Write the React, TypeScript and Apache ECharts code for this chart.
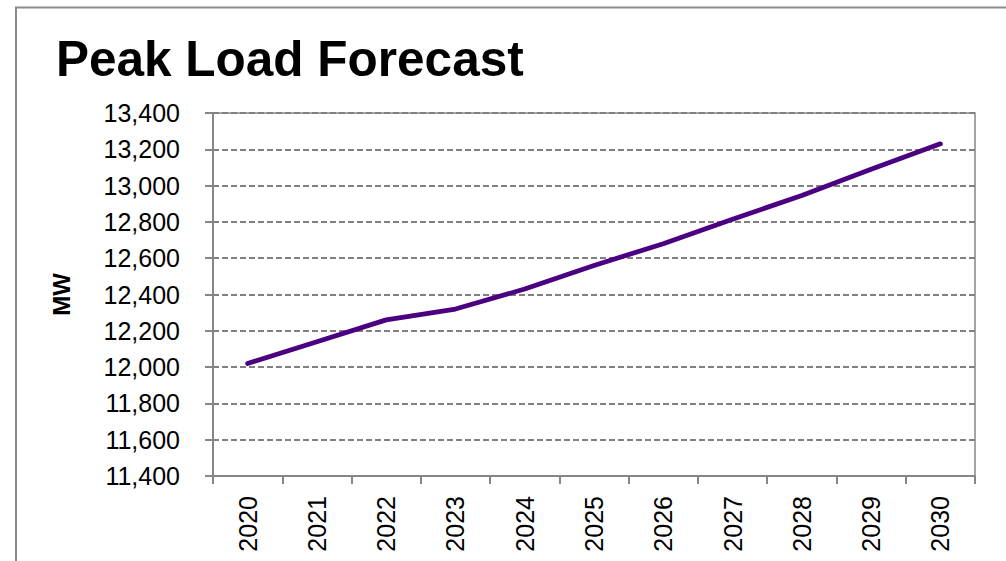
import React, { useEffect, useRef } from "react";
import * as echarts from "echarts";

// Forecast years and annual peak load (MW)
const years = ["2020", "2021", "2022", "2023", "2024", "2025", "2026", "2027", "2028", "2029", "2030"];
const peakLoad = [12020, 12140, 12260, 12320, 12430, 12560, 12680, 12815, 12945, 13090, 13230];

const yMin = 11400;
const yMax = 13400;
const yStep = 200;

const FONT = "'Liberation Sans', Arial, Helvetica, sans-serif";
const AXIS_GRAY = "#868686";

export default function App() {
  const ref = useRef<HTMLDivElement>(null);

  useEffect(() => {
    if (!ref.current) return;
    const chart = echarts.init(ref.current, undefined, { renderer: "svg" });
    chart.setOption({
      animation: false,
      backgroundColor: "#ffffff",
      textStyle: { fontFamily: FONT },
      title: {
        text: "Peak Load Forecast",
        left: 51,
        top: 28,
        textStyle: { fontFamily: FONT, fontSize: 49.5, fontWeight: "bold", color: "#000000" },
      },
      graphic: [
        {
          type: "rect",
          silent: true,
          shape: { x: 16, y: 7.5, width: 1000, height: 600 },
          style: { fill: "none", stroke: "#8c8c8c", lineWidth: 2 },
        },
      ],
      grid: {
        left: 213,
        top: 113,
        right: 31,
        bottom: 85,
        show: true,
        borderColor: AXIS_GRAY,
        borderWidth: 1.5,
        backgroundColor: "transparent",
      },
      xAxis: {
        type: "category",
        data: years,
        boundaryGap: true,
        axisLine: { show: true, lineStyle: { color: AXIS_GRAY, width: 2 } },
        axisTick: { show: true, length: 8, alignWithLabel: false, lineStyle: { color: AXIS_GRAY, width: 2 } },
        axisLabel: {
          rotate: 90,
          margin: 20,
          fontFamily: FONT,
          fontSize: 25,
          color: "#000000",
          interval: 0,
        },
        splitLine: { show: false },
      },
      yAxis: {
        type: "value",
        name: "MW",
        nameLocation: "middle",
        nameGap: 140,
        nameRotate: 90,
        nameTextStyle: { fontFamily: FONT, fontSize: 24, fontWeight: "bold", color: "#000000" },
        min: yMin,
        max: yMax,
        interval: yStep,
        axisLine: { show: true, lineStyle: { color: AXIS_GRAY, width: 2 } },
        axisTick: { show: true, length: 8, lineStyle: { color: AXIS_GRAY, width: 2 } },
        axisLabel: {
          margin: 33,
          fontFamily: FONT,
          fontSize: 25,
          color: "#000000",
          formatter: (v: number) => v.toLocaleString("en-US"),
        },
        splitLine: {
          show: true,
          lineStyle: { color: "#808080", width: 1.8, type: [6, 3] },
        },
      },
      series: [
        {
          type: "line",
          data: peakLoad,
          symbol: "none",
          lineStyle: { color: "#4b0082", width: 4.8, cap: "round", join: "round" },
          z: 5,
        },
      ],
    });
    return () => chart.dispose();
  }, []);

  return (
    <div
      ref={ref}
      style={{ position: "fixed", left: 0, top: 0, width: 1006, height: 561, background: "#fff" }}
    />
  );
}
